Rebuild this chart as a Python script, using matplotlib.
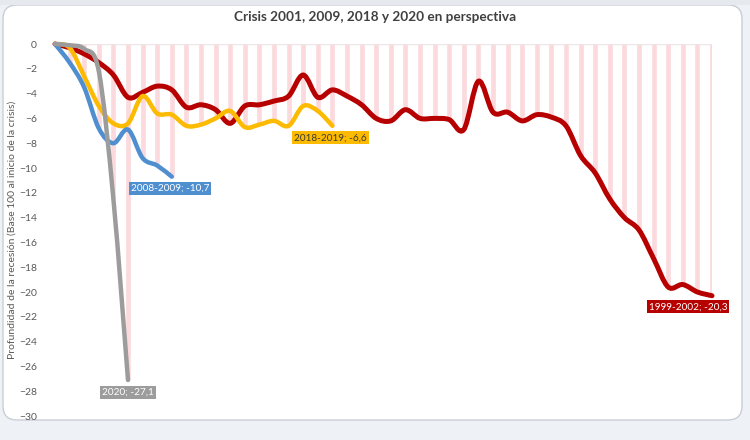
import numpy as np
import matplotlib
matplotlib.use("Agg")
import matplotlib.pyplot as plt
from matplotlib.path import Path
from matplotlib.patches import PathPatch, FancyBboxPatch

plt.rcParams["font.family"] = ["Lato", "DejaVu Sans"]

title = "Crisis 2001, 2009, 2018 y 2020 en perspectiva"
ylabel = "Profundidad de la recesión (Base 100 al inicio de la crisis)"

# values, one point per period since the start of each crisis
crisis_1999 = [0, -0.3, -0.8, -1.5, -2.5, -4.3, -3.9, -3.4, -3.7, -5.1,
               -4.9, -5.3, -6.4, -5.0, -4.9, -4.6, -4.2, -2.5, -4.3, -3.7,
               -4.2, -4.9, -6.0, -6.2, -5.3, -6.0, -6.0, -6.1, -6.9, -3.0,
               -5.5, -5.5, -6.2, -5.7, -5.9, -6.6, -9.0, -10.4, -12.5, -14.0,
               -15.0, -17.3, -19.6, -19.4, -20.0, -20.3]
crisis_2018 = [0, -0.3, -2.6, -5.0, -6.4, -6.4, -4.2, -5.6, -5.7, -6.6,
               -6.5, -6.0, -5.4, -6.7, -6.5, -6.2, -6.6, -5.0, -5.4, -6.6]
crisis_2008 = [0, -1.5, -3.5, -6.8, -8.0, -6.9, -9.2, -9.8, -10.7]
crisis_2020 = [0, -0.1, -0.4, -2.2, -12.5, -27.1]

series = [
    ("1999-2002", crisis_1999, "#b70000", "white", (-24, -11), 3.6),
    ("2018-2019", crisis_2018, "#fcbb00", "#3a3a3a", (-2, -12), 3.2),
    ("2008-2009", crisis_2008, "#4f8fcf", "white", (-2, -12), 3.2),
    ("2020", crisis_2020, "#9c9c9c", "white", (0, -12), 3.2),
]


def smooth_path(y):
    # Excel style smoothed line: cubic bezier segments through every point
    pts = np.column_stack([np.arange(len(y)), y]).astype(float)
    ext = np.vstack([pts[0], pts, pts[-1]])
    verts = [pts[0]]
    codes = [Path.MOVETO]
    for i in range(len(pts) - 1):
        p0, p1, p2, p3 = ext[i], ext[i + 1], ext[i + 2], ext[i + 3]
        verts += [p1 + (p2 - p0) / 6, p2 - (p3 - p1) / 6, p2]
        codes += [Path.CURVE4] * 3
    return Path(verts, codes)


fig = plt.figure(figsize=(7.5, 4.4), dpi=100, facecolor="#eef1f6")

bg = fig.add_axes([0, 0, 1, 1])
bg.set_xlim(0, 750)
bg.set_ylim(440, 0)
bg.axis("off")
bg.add_patch(FancyBboxPatch((3, 5), 739, 415, boxstyle="round,pad=0,rounding_size=14",
                            fc="white", ec="#c9ced6", lw=1))
bg.add_patch(plt.Rectangle((0, 0), 750, 5, fc="#e6e9ee", ec="none"))
bg.text(375, 17, title, ha="center", va="center", fontsize=9.8, fontweight="bold", color="#404040")

ax = fig.add_axes([55 / 750, 24 / 440, 657 / 750, 372 / 440])
ax.set_facecolor("none")
ax.set_xlim(0, 45)
ax.set_ylim(-30, 0)

# drop lines from the axis down to the deepest series at each period
n = len(crisis_1999)
deepest = []
for k in range(n):
    vals = [s[1][k] for s in series if k < len(s[1])]
    deepest.append(min(vals))
ax.vlines(np.arange(n), deepest, 0, color="#fbd9dc", lw=3.3, zorder=1)
ax.axhline(0, color="#efe4e6", lw=1, zorder=1)

for i, (name, vals, color, tcolor, off, lw) in enumerate(series):
    ax.add_patch(PathPatch(smooth_path(vals), fill=False, ec=color, lw=lw,
                           capstyle="round", joinstyle="round", zorder=3 + i, clip_on=False))
    label = f"{name}; {vals[-1]:.1f}".replace(".", ",")
    ax.annotate(label, xy=(len(vals) - 1, vals[-1]), xytext=(off[0] * 0.72, off[1] * 0.72),
                textcoords="offset points", ha="center", va="center", fontsize=7.2, color=tcolor,
                bbox=dict(boxstyle="square,pad=0.2", fc=color, ec="none"), zorder=10)

ax.set_yticks(np.arange(-30, 1, 2))
ax.set_xticks([])
ax.tick_params(axis="y", length=0, pad=13, labelsize=7.5, labelcolor="#595959")
for lbl in ax.get_yticklabels():
    lbl.set_horizontalalignment("right")
for sp in ax.spines.values():
    sp.set_visible(False)
ax.set_ylabel(ylabel, fontsize=7.5, color="#595959")
ax.yaxis.set_label_coords(-0.058, 0.5)

fig.savefig("out.png", dpi=100, facecolor=fig.get_facecolor())
